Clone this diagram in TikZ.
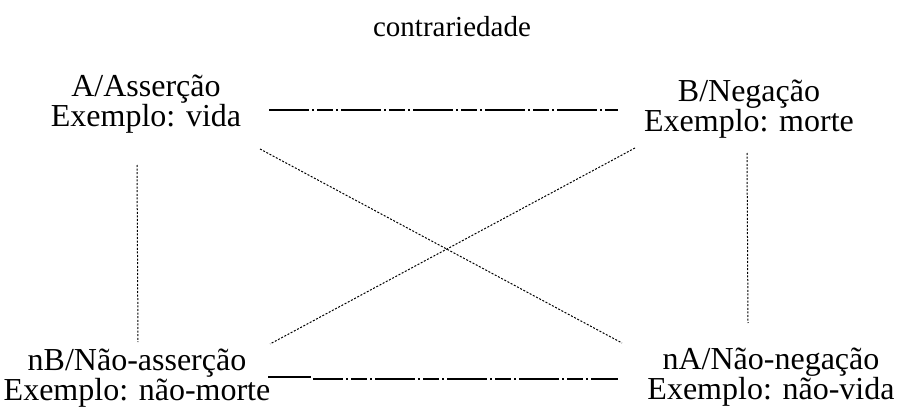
\documentclass[tikz,border=0pt]{standalone}
\usepackage{fontspec}
\setmainfont{Liberation Serif}
\begin{document}
\begin{tikzpicture}[x=1pt, y=-1pt, font=\fontsize{32}{28.5}\selectfont, line join=round,
  rotulo/.style={align=center, inner sep=0pt},
  oposto/.style={line width=1.4pt, dash pattern=on 40pt off 3pt on 2pt off 3pt on 16pt off 3pt on 2pt off 3pt},
  pontos/.style={line width=1pt, dash pattern=on 2pt off 1.6pt}]
	\useasboundingbox (0,0) rectangle (898,412);
	\node[inner sep=0pt, anchor=base, font=\fontsize{29}{30}\selectfont] (titulo) at (452,37) {contrariedade};
	\node[rotulo] (A) at (146,104) {A/Asserção\\Exemplo: vida};
	\node[rotulo] (B) at (749,109) {B/Negação\\Exemplo: morte};
	\node[rotulo] (nB) at (137,378) {nB/Não-asserção\\Exemplo: não-morte};
	\node[rotulo] (nA) at (771,377) {nA/Não-negação\\Exemplo: não-vida};
	% extremidades das linhas
	\coordinate (a1) at (269,110);
	\coordinate (b1) at (618,110);
	\coordinate (a2) at (268,377);
	\coordinate (m2) at (311,377);
	\coordinate (m3) at (313,379);
	\coordinate (b2) at (618,379);
	\coordinate (aV) at (137,165);
	\coordinate (nbV) at (138,342);
	\coordinate (bV) at (747,153);
	\coordinate (naV) at (748,323);
	\coordinate (aX) at (260,149);
	\coordinate (naX) at (622,343);
	\coordinate (bX) at (635,148);
	\coordinate (nbX) at (270,344);
	\draw[oposto] (a1) -- (b1);
	\draw[line width=1.4pt] (a2) -- (m2);
	\draw[oposto, dash phase=10pt] (m3) -- (b2);
	\draw[pontos] (aV) -- (nbV);
	\draw[pontos] (bV) -- (naV);
	\draw[pontos] (aX) -- (naX);
	\draw[pontos] (bX) -- (nbX);
\end{tikzpicture}
\end{document}
